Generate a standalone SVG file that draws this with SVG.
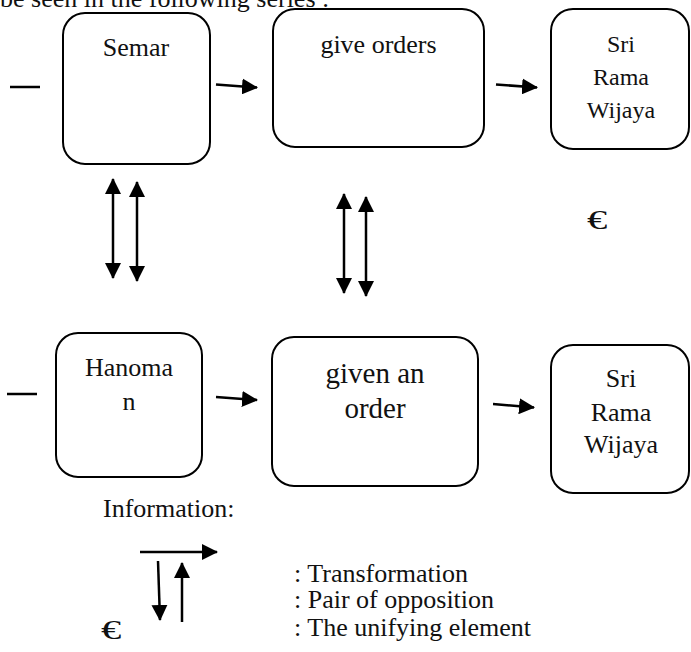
<svg xmlns="http://www.w3.org/2000/svg" width="691" height="652" viewBox="0 0 691 652">
  <style>
    text { font-family: "Liberation Serif", "Times New Roman", serif; fill: #111; }
    .t26 { font-size: 26px; }
    .t24 { font-size: 24px; }
    .t29 { font-size: 29px; }
    .mid { text-anchor: middle; }
    .euro { font-size: 28px; }
    .box { fill: #fff; stroke: #000; stroke-width: 2; }
    .ln { stroke: #000; stroke-width: 2.5; fill: none; }
    .arr { stroke: #000; stroke-width: 2.5; fill: none; marker-end: url(#head); }
    .dbl { stroke: #000; stroke-width: 2.5; fill: none; marker-start: url(#head); marker-end: url(#head); }
  </style>
  <defs>
    <marker id="head" markerUnits="userSpaceOnUse" markerWidth="16" markerHeight="16" refX="15" refY="8" orient="auto-start-reverse" viewBox="0 0 16 16">
      <path d="M0,0 L16,8 L0,16 Z" fill="#000"/>
    </marker>
  </defs>

  <rect width="691" height="652" fill="#fff"/>

  <!-- running text above the figure -->
  <text class="t26" x="0" y="7">be seen in the following series :</text>

  <!-- top row -->
  <g id="node-semar">
    <rect class="box" x="63" y="13" width="147" height="151" rx="22"/>
    <text class="t26 mid" x="136" y="56">Semar</text>
  </g>
  <g id="node-give-orders">
    <rect class="box" x="273" y="9" width="211" height="138" rx="22"/>
    <text class="t26 mid" x="378.5" y="53">give orders</text>
  </g>
  <g id="node-srirama-top">
    <rect class="box" x="551" y="9" width="138" height="140" rx="22"/>
    <text class="t24 mid" x="621" y="52">Sri</text>
    <text class="t24 mid" x="621" y="85">Rama</text>
    <text class="t24 mid" x="621" y="118">Wijaya</text>
  </g>

  <!-- bottom row -->
  <g id="node-hanoman">
    <rect class="box" x="56" y="333" width="146" height="144" rx="22"/>
    <text class="t26 mid" x="129" y="376">Hanoma</text>
    <text class="t26 mid" x="129" y="410">n</text>
  </g>
  <g id="node-given-order">
    <rect class="box" x="272" y="337" width="206" height="149" rx="22"/>
    <text class="t29 mid" x="375" y="383">given an</text>
    <text class="t29 mid" x="375" y="418">order</text>
  </g>
  <g id="node-srirama-bottom">
    <rect class="box" x="551" y="345" width="138" height="148" rx="22"/>
    <text class="t26 mid" x="621" y="387">Sri</text>
    <text class="t26 mid" x="621" y="421">Rama</text>
    <text class="t26 mid" x="621" y="453">Wijaya</text>
  </g>

  <!-- unifying element mark -->
  <g id="node-unifying">
    <text class="euro" transform="translate(587 229) scale(1.45 1)" x="0" y="0">€</text>
  </g>

  <!-- connectors -->
  <g id="connectors">
    <line class="ln" x1="10" y1="87" x2="40" y2="87"/>
    <line class="ln" x1="7" y1="394" x2="37" y2="394"/>

    <line class="arr" x1="216" y1="84.5" x2="257" y2="87.5"/>
    <line class="arr" x1="496" y1="84.5" x2="537" y2="87.5"/>
    <line class="arr" x1="216" y1="397" x2="257" y2="400"/>
    <line class="arr" x1="493" y1="404" x2="534" y2="407.5"/>

    <line class="dbl" x1="113" y1="179" x2="113" y2="278"/>
    <line class="dbl" x1="137" y1="182" x2="137" y2="281"/>
    <line class="dbl" x1="344" y1="194" x2="344" y2="293"/>
    <line class="dbl" x1="366" y1="197" x2="366" y2="296"/>
  </g>

  <!-- legend -->
  <g id="legend">
    <text class="t26" x="103" y="517">Information:</text>
    <line class="arr" x1="140" y1="552" x2="217" y2="552"/>
    <line class="arr" x1="158" y1="561" x2="160" y2="620"/>
    <line class="arr" x1="182" y1="622" x2="182" y2="563"/>
    <text class="euro" transform="translate(101 639) scale(1.45 1)" x="0" y="0">€</text>
    <text class="t26" x="294" y="582">: Transformation</text>
    <text class="t26" x="294" y="608">: Pair of opposition</text>
    <text class="t26" x="294" y="636">: The unifying element</text>
  </g>
</svg>
